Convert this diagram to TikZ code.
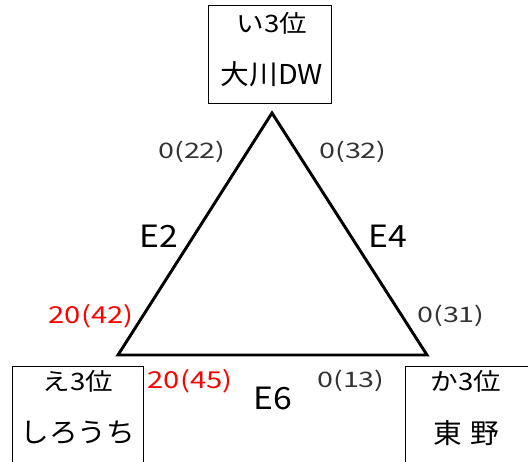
\documentclass[tikz,border=0pt]{standalone}
\usepackage{fontspec}
\setmainfont{Noto Sans CJK JP}
\newfontfamily\rankfont[FakeStretch=1.15]{Noto Sans CJK JP}
\newfontfamily\teamfont[FakeStretch=1.05]{Noto Sans CJK JP}
\newfontfamily\scorefont[FakeStretch=1.35]{Noto Sans CJK JP}
\newfontfamily\redfont[FakeStretch=1.25]{Noto Sans CJK JP}
\newfontfamily\edgefont[FakeStretch=1.1]{Noto Sans CJK JP}
\begin{document}
\begin{tikzpicture}[x=0.75pt,y=-0.75pt,
  box/.style={draw,line width=0.8pt,inner sep=0pt,anchor=north west},
  rank/.style={font=\rankfont\fontsize{18}{20}\selectfont},
  team/.style={font=\teamfont\fontsize{20.5}{22}\selectfont},
  score/.style={font=\scorefont\fontsize{16}{18}\selectfont,text=black!80},
  redscore/.style={font=\redfont\fontsize{17.5}{19}\selectfont,text=red},
  edge/.style={font=\edgefont\fontsize{23}{25}\selectfont}]
\useasboundingbox (0,0) rectangle (528,461);
\clip (0,0) rectangle (528,461);
% boxes
\node[box,minimum width=123*0.75pt,minimum height=98*0.75pt] (top) at (208,5) {};
\node[box,minimum width=131*0.75pt,minimum height=110*0.75pt] (left) at (12,366) {};
\node[box,minimum width=140*0.75pt,minimum height=110*0.75pt] (right) at (405,366) {};
\node[rank] (t1) at (272,23) {い3位};
\node[team] (t2) at (272,74) {大川DW};
\node[rank] (l1) at (78,381) {え3位};
\node[team] (l2) at (78,433) {しろうち};
\node[rank] (r1) at (466,381) {か3位};
\node[team] (r2) at (466,433) {東\hspace{0.3em}野};
% triangle
\coordinate (A) at (272,113);
\coordinate (B) at (118,355);
\coordinate (C) at (427,355);
\draw[line width=2.2pt,line join=miter] (A) -- (B) -- (C) -- cycle;
% labels
\node[score] (s1) at (192,152) {0(22)};
\node[score] (s2) at (353,152) {0(32)};
\node[edge] (e2) at (159,236) {E2};
\node[edge] (e4) at (388,236) {E4};
\node[redscore] (s3) at (91,316) {20(42)};
\node[score] (s4) at (451,316) {0(31)};
\node[redscore] (s5) at (190,381) {20(45)};
\node[edge] (e6) at (273,398) {E6};
\node[score] (s6) at (351,381) {0(13)};
\end{tikzpicture}
\end{document}
